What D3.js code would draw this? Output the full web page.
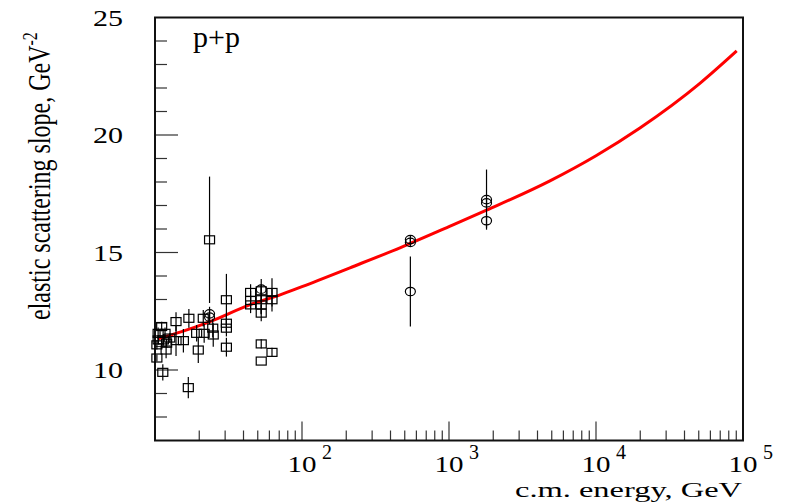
<!DOCTYPE html>
<html>
<head>
<meta charset="utf-8">
<script src="https://cdn.jsdelivr.net/npm/d3@7"></script>
<style>
  body { margin: 0; background: #fff; }
  text { font-family: "Liberation Serif", "Times New Roman", serif; fill: #000; }
</style>
</head>
<body>
<div id="chart"></div>
<script>
// model curve, sqrt(s) in GeV vs slope B in GeV^-2
const curveE = [10.5, 15, 23.7, 44, 71, 100, 212, 464, 1000, 1800, 4860, 10000, 19900, 50900, 90600];
const curveB = [11.33, 11.62, 12.06, 12.77, 13.2, 13.55, 14.35, 15.2, 16.1, 16.8, 18.05, 19.12, 20.3, 22.2, 23.58];

// p+p data (open squares): energy, slope, error
const ppE = [23.5, 30.6, 30.6, 30.6, 30.6, 44.7, 44.7, 44.7, 52.8, 52.8, 52.8, 52.8, 52.8, 52.8,
             62.5, 62.5, 62.5, 16.85, 11.3, 19.7, 17.0, 21.3, 21.6, 24.9, 24.7, 19.2, 15.6, 13.9, 13.9,
             11.9, 11.1, 10.5, 10.5, 11.7, 11.4, 12.0, 10.3, 10.3, 12.6];
const ppB = [15.54, 12.99, 11.99, 11.78, 10.97, 13.30, 12.96, 12.77, 13.37, 12.99, 12.77, 12.42, 11.11, 10.38,
             13.30, 12.99, 10.75, 9.25, 9.90, 10.85, 12.2, 12.2, 11.56, 11.49, 11.78, 11.56, 11.25, 12.06, 11.25,
             10.85, 11.85, 11.56, 11.28, 11.56, 11.28, 11.14, 11.07, 10.51, 11.36];
const ppErr = [2.69, 1.1, 0.35, 0.35, 0.4, 0.35, 0.4, 0.35, 0.5, 0.6, 0.4, 0.35, 0.2, 0,
               0.6, 0.5, 0.2, 0.45, 0.35, 0.55, 0.4, 0.35, 0.4, 0.5, 0.4, 0.35, 0.5, 0.4, 0.65,
               0.35, 0.2, 0.25, 0.2, 0.25, 0.25, 0.2, 0.2, 0.15, 0.2];

// collider data (open circles)
const circE = [23.5, 23.5, 52.8, 546, 546, 546, 1800, 1800, 1800];
const circB = [12.39, 12.25, 13.44, 15.55, 15.43, 13.34, 17.25, 17.11, 16.35];
const circErr = [0.3, 0.3, 0.2, 0.15, 0.15, 1.49, 1.28, 0.2, 0.3];

const xMinor = [20, 30, 40, 50, 60, 70, 80, 90, 200, 300, 400, 500, 600, 700, 800, 900,
                2000, 3000, 4000, 5000, 6000, 7000, 8000, 9000, 20000, 30000, 40000, 50000, 60000, 70000, 80000, 90000];
const xMajor = [100, 1000, 10000];
const xLabels = [{v: 100, p: "2"}, {v: 1000, p: "3"}, {v: 10000, p: "4"}, {v: 100000, p: "5"}];
const yMinor = [8, 9, 11, 12, 13, 14, 16, 17, 18, 19, 21, 22, 23, 24];
const yMajor = [10, 15, 20];
const yLabels = [10, 15, 20, 25];

const W = 798, H = 504;
const L = 155, R = 743, T = 17.5, B = 440.5;

const svg = d3.select("#chart").append("svg")
  .attr("width", W).attr("height", H);

const x = d3.scaleLog().domain([10, 100000]).range([L, R]);
const y = d3.scaleLinear().domain([7, 25]).range([B, T]);

// ticks
const tk = svg.append("g").attr("stroke", "#333").attr("stroke-width", 1.2);
tk.selectAll(".xmin").data(xMinor).enter().append("line")
  .attr("x1", d => x(d)).attr("x2", d => x(d))
  .attr("y1", B).attr("y2", B - 10);
tk.selectAll(".xmaj").data(xMajor).enter().append("line")
  .attr("x1", d => x(d)).attr("x2", d => x(d))
  .attr("y1", B).attr("y2", B - 19);
tk.selectAll(".ymin").data(yMinor).enter().append("line")
  .attr("x1", L).attr("x2", L + 12)
  .attr("y1", d => y(d)).attr("y2", d => y(d));
tk.selectAll(".ymaj").data(yMajor).enter().append("line")
  .attr("x1", L).attr("x2", L + 23)
  .attr("y1", d => y(d)).attr("y2", d => y(d));

// frame
svg.append("rect")
  .attr("x", L).attr("y", T).attr("width", R - L).attr("height", B - T)
  .attr("fill", "none").attr("stroke", "#111").attr("stroke-width", 2);

// y tick labels
svg.selectAll(".ylab").data(yLabels).enter().append("text")
  .attr("x", 123).attr("y", d => y(d) + 8)
  .attr("text-anchor", "end")
  .style("font-size", "24px")
  .attr("textLength", 30).attr("lengthAdjust", "spacingAndGlyphs")
  .text(d => d);

// x tick labels, 10^n
xLabels.forEach(d => {
  svg.append("text")
    .attr("x", x(d.v) - 14.5).attr("y", 472)
    .style("font-size", "23px")
    .attr("textLength", 29).attr("lengthAdjust", "spacingAndGlyphs")
    .text("10");
  svg.append("text")
    .attr("x", x(d.v) + 20).attr("y", 459)
    .style("font-size", "20px")
    .text(d.p);
});

// axis titles
svg.append("text")
  .attr("x", 742).attr("y", 497)
  .attr("text-anchor", "end")
  .style("font-size", "22px")
  .attr("textLength", 227).attr("lengthAdjust", "spacingAndGlyphs")
  .text("c.m. energy, GeV");

const yt = svg.append("text")
  .attr("transform", "translate(50,320) scale(1.3,1) rotate(-90)")
  .style("font-size", "24px");
yt.append("tspan").text("elastic scattering slope, GeV");
yt.append("tspan").attr("dy", -10).style("font-size", "16px").text("-2");

svg.append("text")
  .attr("x", 193).attr("y", 47)
  .style("font-size", "30px")
  .text("p+p");

// model curve
const line = d3.line().x(d => x(d[0])).y(d => y(d[1])).curve(d3.curveMonotoneX);
svg.append("path")
  .datum(curveE.map((e, i) => [e, curveB[i]]))
  .attr("d", line)
  .attr("fill", "none").attr("stroke", "#ff0000").attr("stroke-width", 3);

// points
const pts = svg.append("g").attr("stroke", "#000").attr("stroke-width", 1.2).attr("fill", "none");
const sq = ppE.map((e, i) => ({e: e, b: ppB[i], err: ppErr[i]}));
const ci = circE.map((e, i) => ({e: e, b: circB[i], err: circErr[i]}));

pts.selectAll(".ebs").data(sq.concat(ci)).enter().append("line")
  .attr("x1", d => x(d.e)).attr("x2", d => x(d.e))
  .attr("y1", d => y(d.b + d.err)).attr("y2", d => y(d.b - d.err));

pts.selectAll(".sq").data(sq).enter().append("rect")
  .attr("x", d => x(d.e) - 5).attr("y", d => y(d.b) - 4)
  .attr("width", 10).attr("height", 8);

pts.selectAll(".ci").data(ci).enter().append("ellipse")
  .attr("cx", d => x(d.e)).attr("cy", d => y(d.b))
  .attr("rx", 5).attr("ry", 4.2);
</script>
</body>
</html>
